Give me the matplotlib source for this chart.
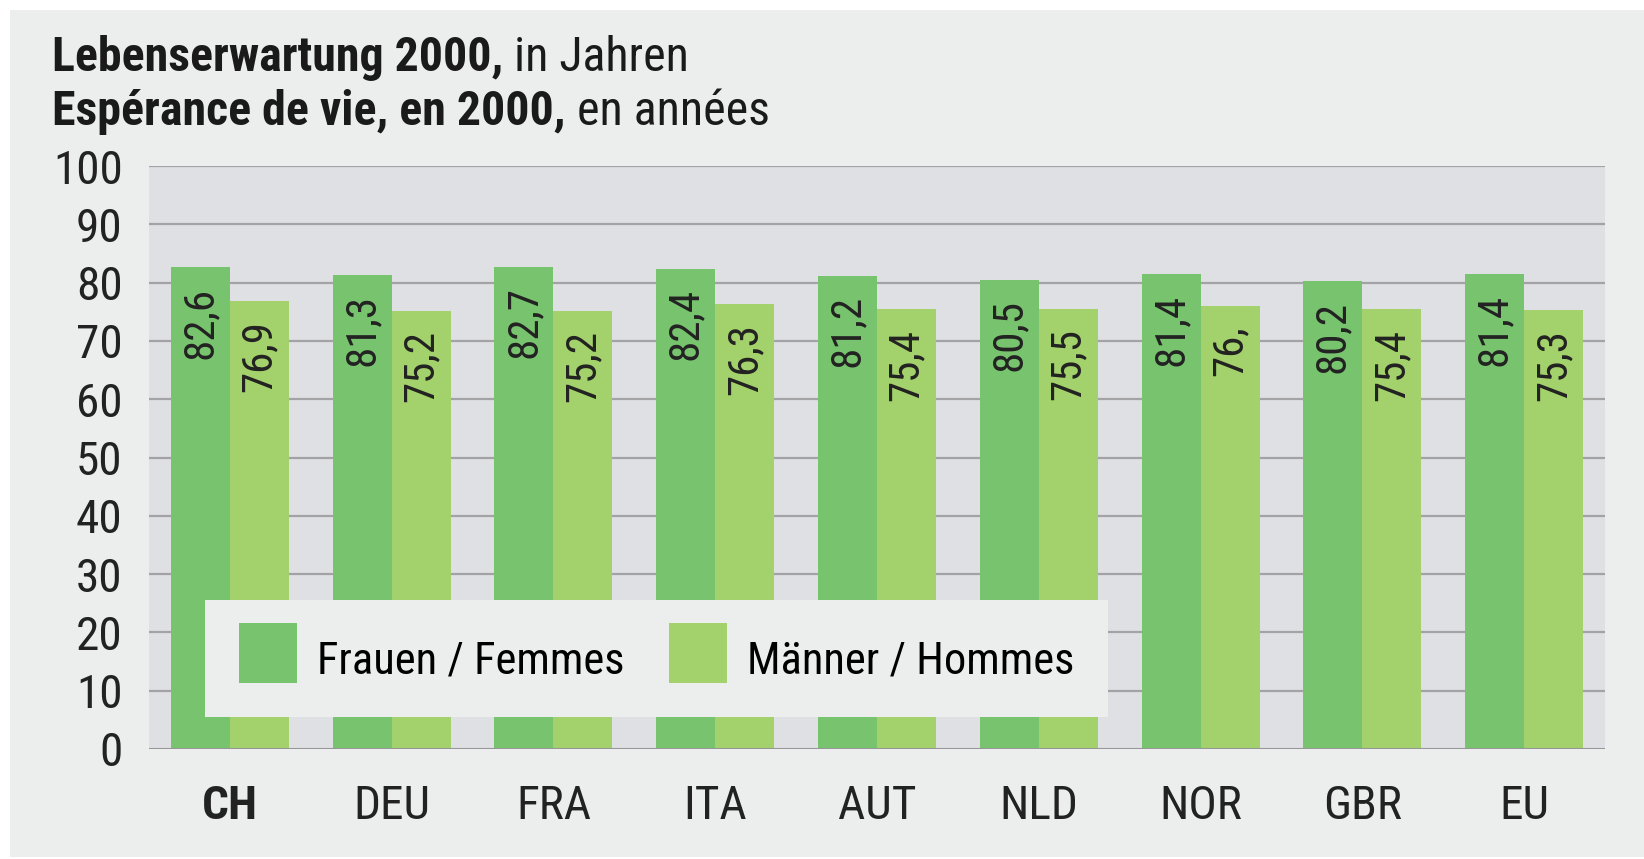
import numpy as np
import matplotlib
matplotlib.use("Agg")
import matplotlib.pyplot as plt
from matplotlib import font_manager
from matplotlib.patches import Rectangle, Patch
from matplotlib.legend_handler import HandlerPatch

# Daten
laender = ['CH', 'DEU', 'FRA', 'ITA', 'AUT', 'NLD', 'NOR', 'GBR', 'EU']
frauen = [82.6, 81.3, 82.7, 82.4, 81.2, 80.5, 81.4, 80.2, 81.4]
maenner = [76.9, 75.2, 75.2, 76.3, 75.4, 75.5, 76.0, 75.4, 75.3]
frauen_txt = ['82,6', '81,3', '82,7', '82,4', '81,2', '80,5', '81,4', '80,2', '81,4']
maenner_txt = ['76,9', '75,2', '75,2', '76,3', '75,4', '75,5', '76,', '75,4', '75,3']
y_ticks = [0, 10, 20, 30, 40, 50, 60, 70, 80, 90, 100]

names = {f.name for f in font_manager.fontManager.ttflist}
fams = [f for f in ('Roboto Condensed', 'Archivo Narrow', 'PT Sans Narrow') if f in names]
plt.rcParams['font.family'] = fams + ['DejaVu Sans']

c_frauen = '#78c46e'
c_maenner = '#a3d16b'
bg = '#eceeed'
txtc = '#222222'

W, H = 1644, 859
fig = plt.figure(figsize=(W / 100, H / 100), dpi=100, facecolor='white')
fig.patches.append(Rectangle((10 / W, 2 / H), 1 - 10 / W, 1 - 12 / H,
                             transform=fig.transFigure, facecolor=bg,
                             edgecolor='none', zorder=-10))

ax = fig.add_axes([149 / W, 1 - 749 / H, 1456 / W, 583 / H])
ax.set_facecolor('#dfe0e4')

x = np.arange(len(laender))
bw = 0.365
b1 = ax.bar(x - bw / 2, frauen, bw, color=c_frauen, zorder=3)
b2 = ax.bar(x + bw / 2, maenner, bw, color=c_maenner, zorder=3)

for bars, txts in ((b1, frauen_txt), (b2, maenner_txt)):
    for b, t in zip(bars, txts):
        ax.annotate(t, (b.get_x() + b.get_width() / 2, b.get_height()),
                    xytext=(0, -14), textcoords='offset points',
                    rotation=90, ha='center', va='top', fontsize=31,
                    color=txtc, zorder=4)

ax.set_xlim(-0.5, len(laender) - 0.5)
ax.set_ylim(0, 100)
ax.set_yticks(y_ticks)
ax.set_yticklabels([str(v) for v in y_ticks], fontsize=34, color=txtc)
ax.set_xticks(x)
ax.set_xticklabels(laender, fontsize=34, color=txtc)
ax.get_xticklabels()[0].set_fontweight('bold')
ax.tick_params(axis='both', length=0)
ax.tick_params(axis='y', pad=19)
ax.tick_params(axis='x', pad=25)
for s in ax.spines.values():
    s.set_visible(False)
for v in y_ticks[1:]:
    ax.axhline(v, color='#a3a3a6', lw=1.6, zorder=1)
ax.axhline(0, color='#97979a', lw=2.2, zorder=5)


def full_box(legend, orig_handle, xdescent, ydescent, width, height, fontsize):
    return Rectangle((-xdescent, -ydescent), width, height + ydescent)


handles = [Patch(facecolor=c_frauen, edgecolor='none', label='Frauen / Femmes'),
           Patch(facecolor=c_maenner, edgecolor='none', label='Männer / Hommes')]
leg = ax.legend(handles=handles, ncol=2, fontsize=32, loc='lower left',
                bbox_to_anchor=(56 / 1456, 32 / 583), borderaxespad=0,
                handlelength=1.31, handleheight=1.35, handletextpad=0.45,
                columnspacing=1.0, borderpad=0.76, fancybox=False,
                facecolor=bg, edgecolor='none', framealpha=1,
                handler_map={Patch: HandlerPatch(patch_func=full_box)})
leg.set_zorder(10)

# Titel
t1 = fig.text(52 / W, 1 - 71 / H, 'Lebenserwartung 2000,', fontsize=34.5,
              fontweight='bold', va='baseline', color='#1a1a1a')
ax.annotate(' in Jahren', xy=(1, 0), xycoords=t1, va='bottom', ha='left',
            fontsize=34.5, color='#1a1a1a', annotation_clip=False)
t2 = fig.text(52 / W, 1 - 125 / H, 'Espérance de vie, en 2000,', fontsize=34.5,
              fontweight='bold', va='baseline', color='#1a1a1a')
ax.annotate(' en années', xy=(1, 0), xycoords=t2, va='bottom', ha='left',
            fontsize=34.5, color='#1a1a1a', annotation_clip=False)

fig.savefig('out.png', dpi=100, facecolor='white')
